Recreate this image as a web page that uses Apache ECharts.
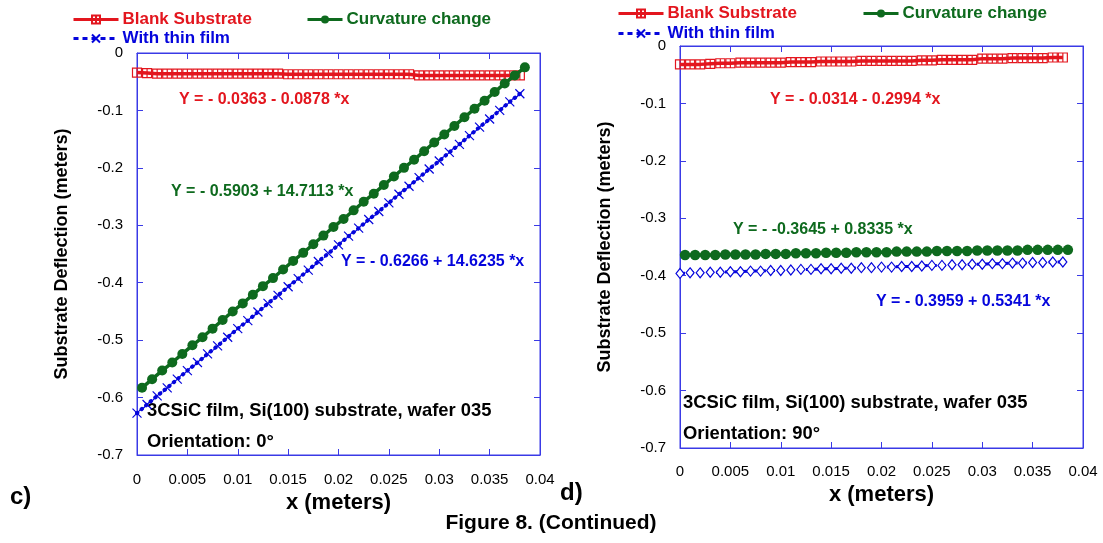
<!DOCTYPE html>
<html><head><meta charset="utf-8">
<script src="https://cdn.jsdelivr.net/npm/echarts@6/dist/echarts.min.js"></script>
<style>html,body{margin:0;padding:0;background:#fff}#c{width:1103px;height:543px}</style>
</head><body><div id="c"></div>
<script>
// ---------- data ----------
const xStep = [0,0.001,0.002,0.003,0.004,0.005,0.006,0.007,0.008,0.009,0.010,0.011,0.012,0.013,0.014,0.015,0.016,0.017,0.018,0.019,0.020,0.021,0.022,0.023,0.024,0.025,0.026,0.027,0.028,0.029,0.030,0.031,0.032,0.033,0.034,0.035,0.036,0.037,0.038];
const xHalf = [0.0005,0.0015,0.0025,0.0035,0.0045,0.0055,0.0065,0.0075,0.0085,0.0095,0.0105,0.0115,0.0125,0.0135,0.0145,0.0155,0.0165,0.0175,0.0185,0.0195,0.0205,0.0215,0.0225,0.0235,0.0245,0.0255,0.0265,0.0275,0.0285,0.0295,0.0305,0.0315,0.0325,0.0335,0.0345,0.0355,0.0365,0.0375,0.0385];

// panel c) orientation 0 deg
const blankC = [-0.034,-0.035,-0.036,-0.036,-0.036,-0.036,-0.036,-0.036,-0.036,-0.036,-0.036,-0.036,-0.036,-0.036,-0.036,-0.037,-0.037,-0.037,-0.037,-0.037,-0.037,-0.037,-0.037,-0.037,-0.037,-0.037,-0.037,-0.037,-0.039,-0.039,-0.039,-0.039,-0.039,-0.039,-0.039,-0.039,-0.039,-0.039,-0.039];
const curvC = [-0.583,-0.568,-0.553,-0.539,-0.524,-0.509,-0.495,-0.480,-0.465,-0.450,-0.436,-0.421,-0.406,-0.392,-0.377,-0.362,-0.348,-0.333,-0.318,-0.303,-0.289,-0.274,-0.259,-0.245,-0.230,-0.215,-0.200,-0.186,-0.171,-0.156,-0.142,-0.127,-0.112,-0.097,-0.083,-0.068,-0.053,-0.039,-0.025];
const filmC = [-0.627,-0.612,-0.597,-0.583,-0.568,-0.553,-0.539,-0.524,-0.510,-0.495,-0.480,-0.466,-0.451,-0.436,-0.422,-0.407,-0.393,-0.378,-0.363,-0.349,-0.334,-0.319,-0.305,-0.290,-0.276,-0.261,-0.246,-0.232,-0.217,-0.202,-0.188,-0.173,-0.159,-0.144,-0.129,-0.115,-0.100,-0.085,-0.071];

// panel d) orientation 90 deg
const blankD = [-0.032,-0.032,-0.032,-0.031,-0.030,-0.030,-0.029,-0.029,-0.029,-0.029,-0.029,-0.028,-0.028,-0.028,-0.027,-0.027,-0.027,-0.027,-0.026,-0.026,-0.026,-0.026,-0.026,-0.026,-0.025,-0.025,-0.024,-0.024,-0.024,-0.024,-0.022,-0.022,-0.022,-0.021,-0.021,-0.021,-0.021,-0.020,-0.020];
const curvD = [-0.364,-0.364,-0.364,-0.364,-0.363,-0.363,-0.363,-0.363,-0.362,-0.362,-0.362,-0.361,-0.361,-0.361,-0.360,-0.360,-0.360,-0.359,-0.359,-0.359,-0.359,-0.358,-0.358,-0.358,-0.358,-0.357,-0.357,-0.357,-0.357,-0.356,-0.356,-0.356,-0.356,-0.356,-0.355,-0.355,-0.355,-0.355,-0.355];
const filmD = [-0.396,-0.395,-0.395,-0.394,-0.394,-0.393,-0.393,-0.392,-0.392,-0.391,-0.391,-0.390,-0.389,-0.389,-0.388,-0.388,-0.387,-0.387,-0.386,-0.386,-0.385,-0.385,-0.384,-0.384,-0.383,-0.382,-0.382,-0.381,-0.381,-0.380,-0.380,-0.379,-0.379,-0.378,-0.378,-0.377,-0.377,-0.376,-0.376];

const seriesNames = ['Blank Substrate','Curvature change','With thin film'];
const xAxisTitle = 'x (meters)';
const yAxisTitle = 'Substrate Deflection (meters)';
const fitC = ['Y = - 0.0363 - 0.0878 *x','Y = - 0.5903 + 14.7113 *x','Y = - 0.6266 + 14.6235 *x'];
const fitD = ['Y = - 0.0314 - 0.2994 *x','Y = - -0.3645 + 0.8335 *x','Y = - 0.3959 + 0.5341 *x'];
const noteLine1 = '3CSiC film, Si(100) substrate, wafer 035';
const orientC = 'Orientation: 0°';
const orientD = 'Orientation: 90°';

// ---------- styles ----------
const RED = '#e3161e', GREEN = '#0e6a1e', BLUE = '#0505dc', FRAME = '#3a3ae6';
const FONT = "'Liberation Sans', Arial, Helvetica, sans-serif";
const pair = (xs, ys) => xs.map((x, i) => [x, ys[i]]);
const SQ_PLUS = 'path://M0,0L10,0L10,10L0,10Z M5,0L5,10';
const CROSS = 'path://M0,0L10,10M10,0L0,10';

const chart = echarts.init(document.getElementById('c'), null, {renderer: 'canvas'});

const grids = [
  {left: 137, top: 53, width: 403, height: 402},
  {left: 680, top: 46, width: 403, height: 402}
].map(g => Object.assign(g, {show: true, borderColor: FRAME, borderWidth: 1, backgroundColor: 'transparent', containLabel: false}));

function xAxes(gi, gap, lm) {
  const base = {gridIndex: gi, type: 'value', min: 0, max: 0.04, interval: 0.005,
    axisLine: {show: true, onZero: false, lineStyle: {color: FRAME, width: 1}},
    axisTick: {show: true, inside: true, length: 6, lineStyle: {color: FRAME, width: 1}},
    splitLine: {show: false}};
  return [
    Object.assign({}, base, {position: 'bottom',
      axisLabel: {show: true, color: '#000', fontSize: 15, fontFamily: FONT, margin: lm},
      name: xAxisTitle, nameLocation: 'middle', nameGap: gap,
      nameTextStyle: {color: '#000', fontSize: 22, fontWeight: 'bold', fontFamily: FONT}}),
    Object.assign({}, base, {position: 'top', axisLabel: {show: false}})
  ];
}
function yAxes(gi) {
  const base = {gridIndex: gi, type: 'value', min: -0.7, max: 0, interval: 0.1,
    axisLine: {show: true, onZero: false, lineStyle: {color: FRAME, width: 1}},
    axisTick: {show: true, inside: true, length: 6, lineStyle: {color: FRAME, width: 1}},
    splitLine: {show: false}};
  return [
    Object.assign({}, base, {position: 'left',
      axisLabel: {show: true, color: '#000', fontSize: 15, fontFamily: FONT, margin: 14},
      name: yAxisTitle, nameLocation: 'middle', nameGap: 66, nameRotate: 90,
      nameTextStyle: {color: '#000', fontSize: 18, fontWeight: 'bold', fontFamily: FONT}}),
    Object.assign({}, base, {position: 'right', axisLabel: {show: false}})
  ];
}

function blankSeries(gi, ys) {
  return {name: seriesNames[0], type: 'line', xAxisIndex: gi * 2, yAxisIndex: gi * 2,
    data: pair(xStep, ys), symbol: SQ_PLUS, symbolSize: 9, showAllSymbol: true,
    itemStyle: {color: 'rgba(255,255,255,0)', borderColor: RED, borderWidth: 1.2},
    lineStyle: {color: RED, width: 3.5}, z: 3, animation: false};
}
function curvSeries(gi, ys, size) {
  return {name: seriesNames[1], type: 'line', xAxisIndex: gi * 2, yAxisIndex: gi * 2,
    data: pair(xHalf, ys), symbol: 'circle', symbolSize: size, showAllSymbol: true,
    itemStyle: {color: GREEN, borderWidth: 0},
    lineStyle: {color: GREEN, width: 3.5}, z: 4, animation: false};
}
function filmSeries(gi, ys, sym, size, itemStyle, lineStyle) {
  return {name: seriesNames[2], type: 'line', xAxisIndex: gi * 2, yAxisIndex: gi * 2,
    data: pair(xStep, ys), symbol: sym, symbolSize: size, showAllSymbol: true,
    itemStyle: itemStyle,
    lineStyle: Object.assign({color: BLUE}, lineStyle), z: 5, animation: false};
}

function legendAt(name, left, top, color, w, dash) {
  const item = {name: name};
  if (dash) item.lineStyle = {type: dash, cap: 'butt'};
  return {show: true, left: left, top: top, orient: 'horizontal', data: [item],
    itemWidth: w, itemHeight: 10, itemGap: 0, padding: 0, selectedMode: false,
    lineStyle: {width: 3},
    textStyle: {color: color, fontSize: 17, fontWeight: 'bold', fontFamily: FONT, padding: [0, 0, 0, -1]}};
}

function txt(x, y, text, color, size, align) {
  return {type: 'text', x: x, y: y, silent: true,
    style: {text: text, fill: color, font: 'bold ' + size + 'px ' + FONT, verticalAlign: 'middle', align: align || 'left'}};
}

const option = {
  backgroundColor: '#fff',
  animation: false,
  grid: grids,
  xAxis: [...xAxes(0, 30, 17), ...xAxes(1, 28, 16)],
  yAxis: [...yAxes(0), ...yAxes(1)],
  legend: [
    legendAt(seriesNames[0], 72, 11, RED, 45),
    legendAt(seriesNames[1], 306, 11, GREEN, 35),
    legendAt(seriesNames[2], 72, 30, BLUE, 45, [5, 4]),
    legendAt(seriesNames[0], 617, 5, RED, 45),
    legendAt(seriesNames[1], 862, 5, GREEN, 35),
    legendAt(seriesNames[2], 617, 25, BLUE, 45, [5, 4])
  ],
  series: [
    blankSeries(0, blankC),
    curvSeries(0, curvC, 10),
    filmSeries(0, filmC, CROSS, 9, {color: 'rgba(255,255,255,0)', borderColor: BLUE, borderWidth: 1.2},
      {width: 4, type: [0.5, 5.5], cap: 'round'}),
    blankSeries(1, blankD),
    curvSeries(1, curvD, 10.5),
    filmSeries(1, filmD, 'diamond', [8, 10], {color: '#fff', borderColor: BLUE, borderWidth: 1.2},
      {width: 3, type: [5, 4], cap: 'butt'})
  ],
  graphic: [
    txt(179, 100, fitC[0], RED, 16),
    txt(171, 192, fitC[1], GREEN, 16),
    txt(341, 262, fitC[2], BLUE, 16),
    txt(147, 411, noteLine1, '#000', 18.4),
    txt(147, 442, orientC, '#000', 18.4),
    txt(770, 100, fitD[0], RED, 16),
    txt(733, 230, fitD[1], GREEN, 16),
    txt(876, 302, fitD[2], BLUE, 16),
    txt(683, 403, noteLine1, '#000', 18.4),
    txt(683, 434, orientD, '#000', 18.4),
    txt(10, 497, 'c)', '#000', 24),
    txt(560, 493, 'd)', '#000', 24),
    txt(551, 523, 'Figure 8. (Continued)', '#000', 21, 'center')
  ]
};
chart.setOption(option);
</script>
</body></html>
